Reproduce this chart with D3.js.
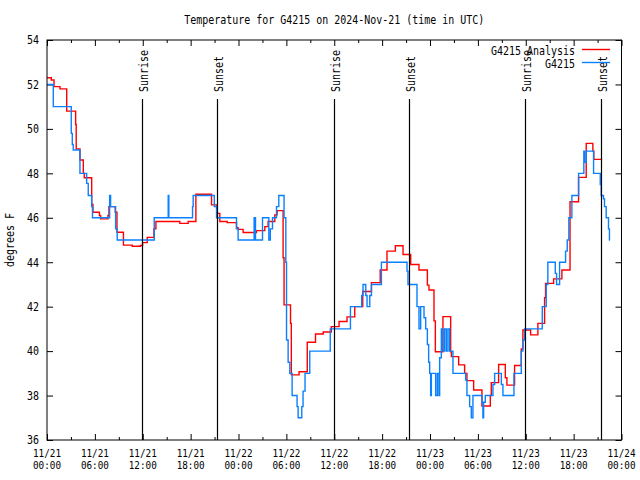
<!DOCTYPE html>
<html><head><meta charset="utf-8">
<script src="https://cdn.jsdelivr.net/npm/d3@7"></script>
<style>body{margin:0;background:#fff}svg{display:block}</style>
</head><body><svg id="c" width="640" height="480"></svg>
<script>
// ---------------- data ----------------
const chartTitle = "Temperature for G4215 on 2024-Nov-21 (time in UTC)";
const yAxisLabel = "degrees F";
const seriesNames = ["G4215 Analysis", "G4215"];
const startTime = "2024-11-21T00:00:00Z";
const endTime = "2024-11-24T00:00:00Z";
const yTickValues = [36, 38, 40, 42, 44, 46, 48, 50, 52, 54];
const xTickHours = [0, 6, 12, 18, 24, 30, 36, 42, 48, 54, 60, 66, 72];

// hours since 2024-11-21 00:00 UTC
const analysisHours = [0, 0.54, 0.88, 1.63, 2.47, 3.59, 3.66, 4.13, 4.55, 4.67, 5.60, 5.76, 6.57, 6.72, 7.64, 7.76, 8.55, 8.77, 9.58, 10.68, 11.71, 11.98, 12.56, 13.40, 13.65, 16.65, 17.69, 18.66, 20.62, 21.29, 21.66, 22.58, 23.75, 23.95, 24.58, 26.26, 27.30, 27.71, 28.55, 28.84, 29.59, 29.71, 30.52, 30.62, 31.59, 32.62, 33.65, 34.62, 35.63, 36.60, 37.60, 38.57, 39.57, 40.66, 41.76, 42.61, 43.66, 44.62, 45.58, 46.62, 47.67, 47.87, 48.50, 48.67, 49.62, 50.59, 50.68, 51.59, 52.34, 52.63, 53.47, 54.51, 55.56, 55.68, 56.60, 57.44, 57.64, 58.60, 59.44, 59.64, 60.61, 61.52, 62.36, 62.48, 63.49, 64.53, 65.55, 66.62, 67.58, 68.41, 68.53, 69.58];
const analysisTemps = [52.3, 52.2, 51.9, 51.8, 50.8, 50.2, 49.1, 48.6, 48.0, 47.8, 46.6, 46.25, 46.1, 45.95, 46.1, 46.5, 46.25, 45.35, 44.77, 44.72, 44.75, 44.88, 45.12, 45.5, 45.83, 45.75, 45.83, 47.06, 46.58, 46.2, 45.83, 45.78, 45.55, 45.48, 45.34, 45.42, 45.6, 45.83, 46.13, 46.32, 44.2, 42.08, 41.25, 38.93, 39.07, 40.4, 40.77, 40.86, 41.1, 41.33, 41.54, 42.0, 42.68, 43.08, 43.65, 44.5, 44.74, 44.35, 43.9, 43.65, 42.97, 42.75, 41.36, 39.97, 41.55, 39.97, 39.75, 39.38, 39.0, 38.67, 38.25, 37.53, 38.0, 38.58, 39.4, 38.8, 38.47, 39.35, 40.1, 40.95, 40.73, 41.25, 42.4, 43.05, 43.25, 43.65, 46.72, 47.82, 49.35, 49.0, 48.63, 48.63];

const stationHours = [0.00, 0.79, 3.04, 3.17, 3.29, 4.13, 4.97, 5.17, 5.60, 5.70, 7.85, 7.97, 8.60, 8.80, 13.44, 15.19, 15.27, 18.24, 18.32, 20.97, 21.25, 23.75, 23.95, 25.96, 26.13, 27.01, 27.80, 27.99, 28.26, 28.76, 29.05, 29.71, 29.93, 30.02, 30.22, 30.43, 30.72, 31.34, 31.47, 31.93, 32.09, 32.34, 32.93, 35.50, 38.03, 39.44, 39.61, 39.95, 40.11, 40.45, 40.66, 41.91, 45.12, 45.24, 46.37, 46.62, 46.83, 47.25, 47.46, 47.67, 47.83, 47.96, 48.08, 48.17, 48.71, 48.92, 49.12, 49.21, 49.42, 49.62, 49.84, 50.05, 50.25, 50.46, 50.88, 52.47, 52.63, 52.97, 53.18, 53.38, 54.51, 54.63, 54.72, 54.93, 55.89, 56.10, 56.94, 57.14, 58.52, 59.44, 59.64, 59.85, 62.07, 62.57, 62.77, 63.70, 63.86, 64.24, 64.99, 65.20, 65.40, 65.78, 66.62, 67.28, 67.37, 67.58, 68.50, 69.34, 69.46, 69.74, 69.87, 70.08, 70.37, 70.49, 70.55];
const stationTemps = [52.0, 51.0, 49.8, 49.3, 49.05, 48.0, 47.55, 47.0, 46.5, 46.0, 47.0, 46.5, 45.5, 45.0, 46.0, 47.0, 46.0, 46.5, 47.0, 46.5, 46.0, 45.5, 45.0, 46.0, 45.0, 46.0, 45.0, 45.5, 46.0, 46.5, 47.0, 46.0, 44.0, 40.5, 39.5, 39.0, 38.0, 37.5, 37.0, 37.5, 38.2, 39.0, 40.0, 41.0, 42.0, 42.5, 43.0, 42.5, 42.0, 42.5, 43.0, 44.0, 43.6, 43.0, 42.0, 41.0, 42.0, 41.5, 41.0, 40.3, 39.5, 39.0, 38.0, 39.0, 38.0, 39.0, 38.0, 39.7, 41.0, 40.0, 41.0, 40.0, 41.0, 40.0, 39.0, 38.7, 38.0, 37.5, 37.0, 38.0, 37.7, 37.0, 37.7, 38.0, 38.5, 39.0, 38.5, 38.0, 39.0, 40.0, 40.5, 41.0, 42.0, 43.0, 44.0, 43.5, 43.0, 44.0, 44.5, 45.0, 46.0, 47.0, 48.0, 49.0, 48.5, 49.0, 48.0, 47.5, 47.0, 46.85, 46.5, 46.0, 45.5, 45.0, 45.0];

const sunEventHours = [11.88, 21.36, 35.91, 45.33, 59.87, 69.38];
const sunEventLabels = ["Sunrise", "Sunset", "Sunrise", "Sunset", "Sunrise", "Sunset"];

// ---------------- drawing ----------------
const FONT = "'DejaVu Sans Mono', monospace";
const svg = d3.select("#c");
const L = 47, R = 621.5, T = 40, B = 440;
const t0 = new Date(startTime).getTime();
const hToDate = h => new Date(t0 + h * 3600e3);
const x = d3.scaleUtc().domain([new Date(startTime), new Date(endTime)]).range([L, R]);
const y = d3.scaleLinear().domain([36, 54]).range([B, T]);

function fit(sel, cw) {
  sel.each(function () {
    const s = d3.select(this).text();
    if (s.length) d3.select(this).attr("textLength", s.length * cw).attr("lengthAdjust", "spacingAndGlyphs");
  });
  return sel;
}
function txt(parent, s, px, py, anchor, rot, fs, cw) {
  fs = fs || 12; cw = cw || 6;
  const t = parent.append("text").attr("font-family", FONT).attr("font-size", fs)
    .attr("fill", "#000").attr("text-anchor", anchor || "middle").text(s);
  if (rot) t.attr("transform", `translate(${px},${py}) rotate(${rot})`);
  else t.attr("x", px).attr("y", py);
  fit(t, cw);
  return t;
}

// title and axis label
txt(svg, chartTitle, (L + R) / 2, 24);
txt(svg, yAxisLabel, 14, 240, "middle", -90);

// ticks
const minorHours = d3.range(3, 72, 6);
function ticks(axisGen, tr, vals, size) {
  const g = svg.append("g").attr("transform", tr)
    .call(axisGen.tickValues(vals).tickSize(size).tickFormat(""));
  g.select(".domain").remove();
  g.selectAll("line").attr("stroke", "#000");
  return g;
}
ticks(d3.axisBottom(x), `translate(0,${B})`, xTickHours.map(hToDate), -6);
ticks(d3.axisTop(x), `translate(0,${T})`, xTickHours.map(hToDate), -6);
ticks(d3.axisBottom(x), `translate(0,${B})`, minorHours.map(hToDate), -3);
ticks(d3.axisTop(x), `translate(0,${T})`, minorHours.map(hToDate), -3);
ticks(d3.axisLeft(y), `translate(${L},0)`, yTickValues, -6);
ticks(d3.axisRight(y), `translate(${R},0)`, yTickValues, -6);

// y tick labels
const yl = svg.append("g").attr("transform", `translate(${L},0)`)
  .call(d3.axisLeft(y).tickValues(yTickValues).tickSize(0).tickPadding(8).tickFormat(d3.format("d")));
yl.select(".domain").remove();
yl.selectAll("text").attr("font-family", FONT).attr("font-size", 12).attr("fill", "#000").call(fit, 6);

// x tick labels (two lines)
const fmtDay = d3.utcFormat("%m/%d"), fmtTime = d3.utcFormat("%H:%M");
xTickHours.forEach(h => {
  const d = hToDate(h);
  txt(svg, fmtDay(d), x(d), 457, "middle", 0, 10.5, 5.6);
  txt(svg, fmtTime(d), x(d), 469, "middle", 0, 10.5, 5.6);
});

// series
const line = d3.line().x(d => x(d[0])).y(d => y(d[1])).curve(d3.curveStepAfter);
const analysis = analysisHours.map((h, i) => [hToDate(h), analysisTemps[i]]);
const station = stationHours.map((h, i) => [hToDate(h), stationTemps[i]]);
const colors = ["#ff0000", "#0a80ff"];
[analysis, station].forEach((data, i) => {
  svg.append("path").datum(data).attr("d", line).attr("fill", "none")
    .attr("stroke", colors[i]).attr("stroke-width", 1.4);
});

// sunrise / sunset markers
sunEventHours.forEach((h, i) => {
  const xx = Math.round(x(hToDate(h))) + 0.5;
  svg.append("line").attr("x1", xx).attr("x2", xx).attr("y1", 99).attr("y2", B)
    .attr("stroke", "#000").attr("stroke-width", 1.2);
  txt(svg, sunEventLabels[i], xx + 5.5, 92, "start", -90);
});

// frame
svg.append("rect").attr("x", L).attr("y", T).attr("width", R - L).attr("height", B - T)
  .attr("fill", "none").attr("stroke", "#000").attr("stroke-width", 1);

// legend
seriesNames.forEach((n, i) => {
  const by = 55 + i * 13;
  txt(svg, n, 575, by, "end");
  svg.append("line").attr("x1", 582).attr("x2", 610).attr("y1", by - 5.5).attr("y2", by - 5.5)
    .attr("stroke", colors[i]).attr("stroke-width", 1.4);
});
</script>
</body></html>
